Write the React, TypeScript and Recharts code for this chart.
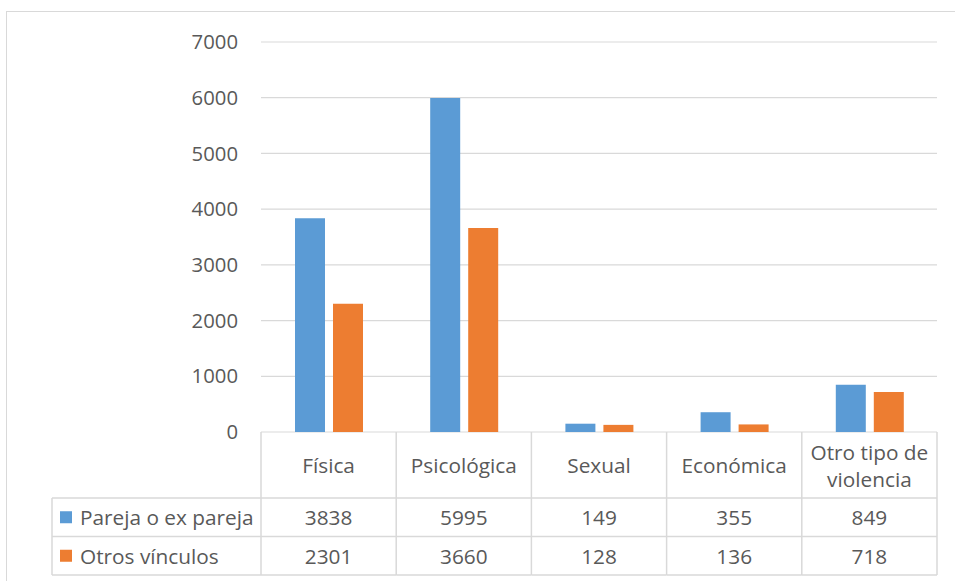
import { BarChart, Bar, XAxis, YAxis, CartesianGrid } from 'recharts';

const categories = ['Física', 'Psicológica', 'Sexual', 'Económica', 'Otro tipo de violencia'];
const parejaValues = [3838, 5995, 149, 355, 849];
const otrosValues = [2301, 3660, 128, 136, 718];
const seriesNames = ['Pareja o ex pareja', 'Otros vínculos'];
const seriesColors = ['#5B9BD5', '#ED7D31'];
const yTicks = [0, 1000, 2000, 3000, 4000, 5000, 6000, 7000];

const data = categories.map((category, i) => ({
  category,
  pareja: parejaValues[i],
  otros: otrosValues[i],
}));
const seriesValues = [parejaValues, otrosValues];

const W = 955;
const H = 581;
const Y_AXIS_W = 60;
const MARGIN = { top: 42, right: 18, bottom: 7, left: 261 - Y_AXIS_W };
const BAND = (W - MARGIN.left - Y_AXIS_W - MARGIN.right) / categories.length;
const HEAD_H = 66;
const ROW_H = 38.5;
const LABEL_COL_X = 52;
const LINE = '#d9d9d9';
const TEXT = '#595959';
const FONT = '"Open Sans", sans-serif';

// splits long category names into two lines like Excel does
function wrapLabel(label: string, max = 12) {
  const lines: string[] = [];
  let cur = '';
  for (const w of label.split(' ')) {
    const next = cur ? cur + ' ' + w : w;
    if (next.length > max && cur) {
      lines.push(cur);
      cur = w;
    } else {
      cur = next;
    }
  }
  if (cur) lines.push(cur);
  return lines;
}

function TableTick(props: any) {
  const { x, y, payload } = props;
  const i: number = payload.index ?? props.index ?? 0;
  const half = payload.offset > 0 ? payload.offset : BAND / 2;
  const left = x - half;
  const right = x + half;
  const r1 = y + HEAD_H;
  const r2 = r1 + ROW_H;
  const bottom = r2 + ROW_H;
  const lines = wrapLabel(String(payload.value));
  const headMid = y + HEAD_H / 2;
  const lineH = 27;

  return (
    <g fontFamily={FONT} fontSize={20.8} fill={TEXT}>
      <line x1={left} y1={y} x2={left} y2={bottom} stroke={LINE} strokeWidth={1.5} />
      {i === categories.length - 1 && (
        <line x1={right} y1={y} x2={right} y2={bottom} stroke={LINE} strokeWidth={1.5} />
      )}
      {[r1, r2, bottom].map((yy) => (
        <line key={yy} x1={left} y1={yy} x2={right} y2={yy} stroke={LINE} strokeWidth={1.5} />
      ))}
      {lines.map((t, k) => (
        <text
          key={k}
          x={x}
          y={headMid + (k - (lines.length - 1) / 2) * lineH}
          textAnchor="middle"
          dominantBaseline="central"
        >
          {t}
        </text>
      ))}
      {seriesValues.map((vals, s) => (
        <text key={s} x={x} y={r1 + ROW_H * s + ROW_H / 2} textAnchor="middle" dominantBaseline="central">
          {vals[i]}
        </text>
      ))}
      {i === 0 && (
        <g>
          <line x1={LABEL_COL_X} y1={r1} x2={LABEL_COL_X} y2={bottom} stroke={LINE} strokeWidth={1.5} />
          {[r1, r2, bottom].map((yy) => (
            <line key={yy} x1={LABEL_COL_X} y1={yy} x2={left} y2={yy} stroke={LINE} strokeWidth={1.5} />
          ))}
          {seriesNames.map((name, s) => {
            const mid = r1 + ROW_H * s + ROW_H / 2;
            return (
              <g key={name}>
                <rect x={LABEL_COL_X + 8} y={mid - 6} width={12} height={12} fill={seriesColors[s]} />
                <text x={LABEL_COL_X + 28} y={mid} dominantBaseline="central">
                  {name}
                </text>
              </g>
            );
          })}
        </g>
      )}
    </g>
  );
}

export default function App() {
  return (
    <div style={{ position: 'absolute', left: 0, top: 0, width: W, height: H, overflow: 'hidden', background: '#fff' }}>
      <div
        style={{
          position: 'absolute',
          left: 6,
          top: 11,
          width: W,
          height: H,
          borderLeft: `1.5px solid ${LINE}`,
          borderTop: `1.5px solid ${LINE}`,
        }}
      />
      <div style={{ position: 'absolute', left: 0, top: 0 }}>
        <BarChart width={W} height={H} data={data} margin={MARGIN} barGap={8} barSize={30}>
          <CartesianGrid vertical={false} stroke={LINE} strokeWidth={1.2} />
          <YAxis
            width={Y_AXIS_W}
            domain={[0, 7000]}
            ticks={yTicks}
            axisLine={false}
            tickLine={false}
            tickSize={0}
            tickMargin={23}
            tick={{ fill: TEXT, fontSize: 20.3, fontFamily: FONT }}
          />
          <XAxis
            dataKey="category"
            height={H - MARGIN.top - MARGIN.bottom - 390}
            interval={0}
            axisLine={false}
            tickLine={false}
            tickSize={0}
            tickMargin={0}
            tick={<TableTick />}
          />
          <Bar dataKey="pareja" name={seriesNames[0]} fill={seriesColors[0]} isAnimationActive={false} />
          <Bar dataKey="otros" name={seriesNames[1]} fill={seriesColors[1]} isAnimationActive={false} />
        </BarChart>
      </div>
    </div>
  );
}
